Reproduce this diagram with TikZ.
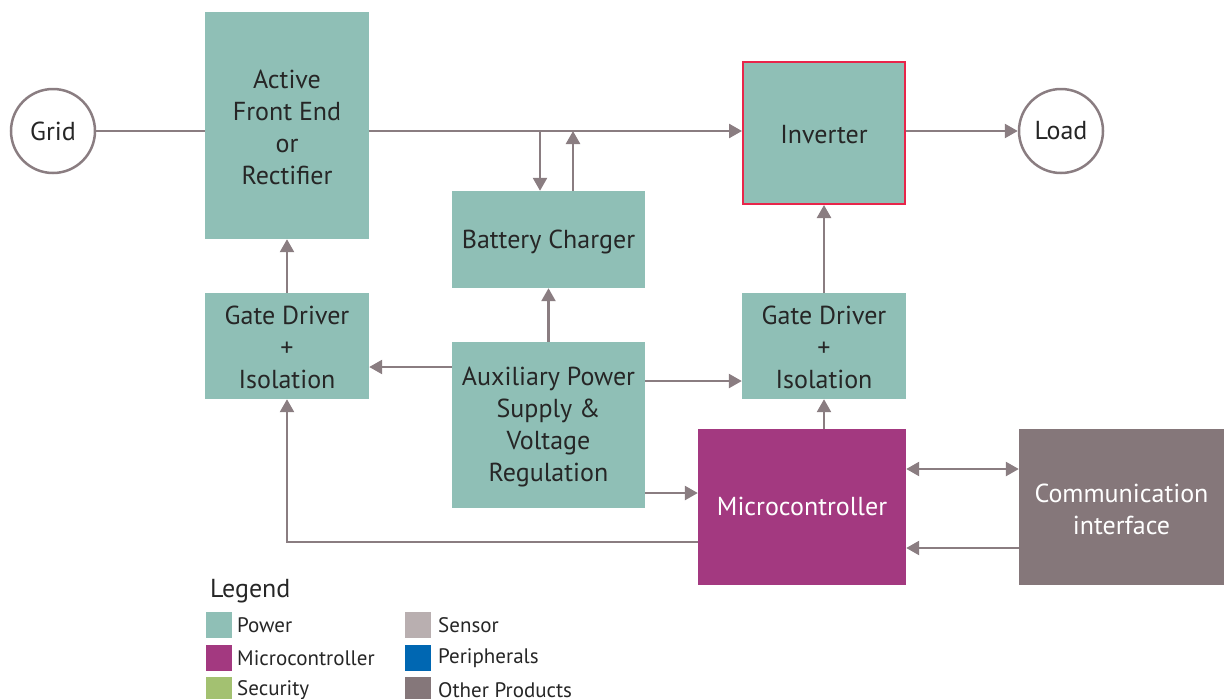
\documentclass[tikz,border=0pt]{standalone}
\usepackage{fontspec}
\setmainfont{PT Sans}
\usetikzlibrary{arrows.meta}
\definecolor{powc}{HTML}{8FBFB6}
\definecolor{micc}{HTML}{A33980}
\definecolor{secc}{HTML}{A3C171}
\definecolor{senc}{HTML}{B9AFB0}
\definecolor{perc}{HTML}{0067B2}
\definecolor{othc}{HTML}{85777A}
\definecolor{linec}{HTML}{8A7D81}
\definecolor{redc}{HTML}{E8254A}
% lines of a box text, set a little lower than centre
\newcommand{\boxtxt}[2][10pt]{\raisebox{0pt}[\dimexpr\height+#1\relax][\depth]{\begin{tabular}{@{}c@{}}#2\end{tabular}}}
\tikzstyle{power} = [rectangle, fill=powc, text=black!85, inner sep=0pt, font=\fontsize{26}{32}\selectfont]
\tikzstyle{endp} = [circle, draw=linec, line width=2.5pt, fill=white, minimum size=84pt, inner sep=0pt, text=black!85, font=\fontsize{26}{32}\selectfont]
\tikzstyle{arrow} = [line width=2.5pt, draw=linec, -{Triangle[width=14pt,length=13pt]}]
\tikzstyle{line} = [line width=2.5pt, draw=linec]
\tikzstyle{legbox} = [rectangle, minimum size=26pt, inner sep=0pt]
\tikzstyle{legtxt} = [anchor=west, inner sep=0pt, text=black!85, font=\fontsize{21}{24}\selectfont]

\begin{document}
\begin{tikzpicture}[x=1pt,y=-1pt]
\useasboundingbox (0,0) rectangle (1224,699);

\node (grid) [endp] at (53,131) {Grid};
\node (afe) [power, minimum width=164pt, minimum height=227pt] at (287,125.5) {\boxtxt{Active\\Front End\\or\\Rectifier}};
\node (inv) [power, draw=redc, line width=2pt, minimum width=162pt, minimum height=142pt] at (824,133) {\boxtxt[8pt]{Inverter}};
\node (load) [endp] at (1061,131) {Load};
\node (bat) [power, minimum width=193pt, minimum height=97pt] at (548.5,239.5) {\boxtxt[6pt]{Battery Charger}};
\node (gdl) [power, minimum width=164pt, minimum height=106pt] at (287,346) {\boxtxt[8pt]{Gate Driver\\+\\Isolation}};
\node (aux) [power, minimum width=193pt, minimum height=166pt] at (548.5,425) {\boxtxt[4pt]{Auxiliary Power\\Supply \&\\Voltage\\Regulation}};
\node (gdr) [power, minimum width=164pt, minimum height=106pt] at (824,346) {\boxtxt[8pt]{Gate Driver\\+\\Isolation}};
\node (mcu) [power, fill=micc, text=white, minimum width=208pt, minimum height=156pt] at (802,507) {\boxtxt[4pt]{Microcontroller}};
\node (com) [power, fill=othc, text=white, minimum width=205pt, minimum height=156pt] at (1121.5,507) {\boxtxt[10pt]{Communication\\interface}};

% main power path
\draw [line] (grid.east) -- (afe.west |- grid.east);
\draw [arrow] (afe.east |- grid.east) -- (inv.west |- grid.east);
\draw [arrow] (inv.east |- load.west) -- (load.west);

% battery charger
\draw [arrow] (540,131) -- ([xshift=-8.5pt]bat.north);
\draw [arrow] ([xshift=24.5pt]bat.north) -- (573,131);
\draw [arrow] (aux.north) -- (bat.south);

% gate drivers
\draw [arrow] (gdl.north) -- (afe.south);
\draw [arrow] (gdr.north) -- (inv.south);
\draw [arrow] (aux.west |- 0,367) -- (gdl.east |- 0,367);
\draw [arrow] (aux.east |- 0,381) -- (gdr.west |- 0,381);
\draw [arrow] (aux.east |- 0,493) -- (mcu.west |- 0,493);
\draw [arrow] (mcu.north -| gdr.south) -- (gdr.south);
\draw [arrow] (mcu.west |- 0,542) -| (gdl.south);

% communication
\draw [arrow, {Triangle[width=14pt,length=13pt]}-{Triangle[width=14pt,length=13pt]}] (mcu.east |- 0,469) -- (com.west |- 0,469);
\draw [arrow] (com.west |- 0,548) -- (mcu.east |- 0,548);

% legend
\node (leg) [legtxt, font=\fontsize{26}{28}\selectfont] at (210,591) {Legend};
\node (l1) [legbox, fill=powc] at (219,625) {};
\node (t1) [legtxt] at (237,625) {Power};
\node (l2) [legbox, fill=micc] at (219,658) {};
\node (t2) [legtxt] at (237,658) {Microcontroller};
\node (l3) [legbox, fill=secc] at (219,690) {};
\node (t3) [legtxt] at (237,690) {Security};
\node (l4) [legbox, fill=senc] at (418,625) {};
\node (t4) [legtxt] at (438,625) {Sensor};
\node (l5) [legbox, fill=perc] at (418,658) {};
\node (t5) [legtxt] at (438,658) {Peripherals};
\node (l6) [legbox, fill=othc] at (418,690) {};
\node (t6) [legtxt] at (438,690) {Other Products};

\end{tikzpicture}
\end{document}
